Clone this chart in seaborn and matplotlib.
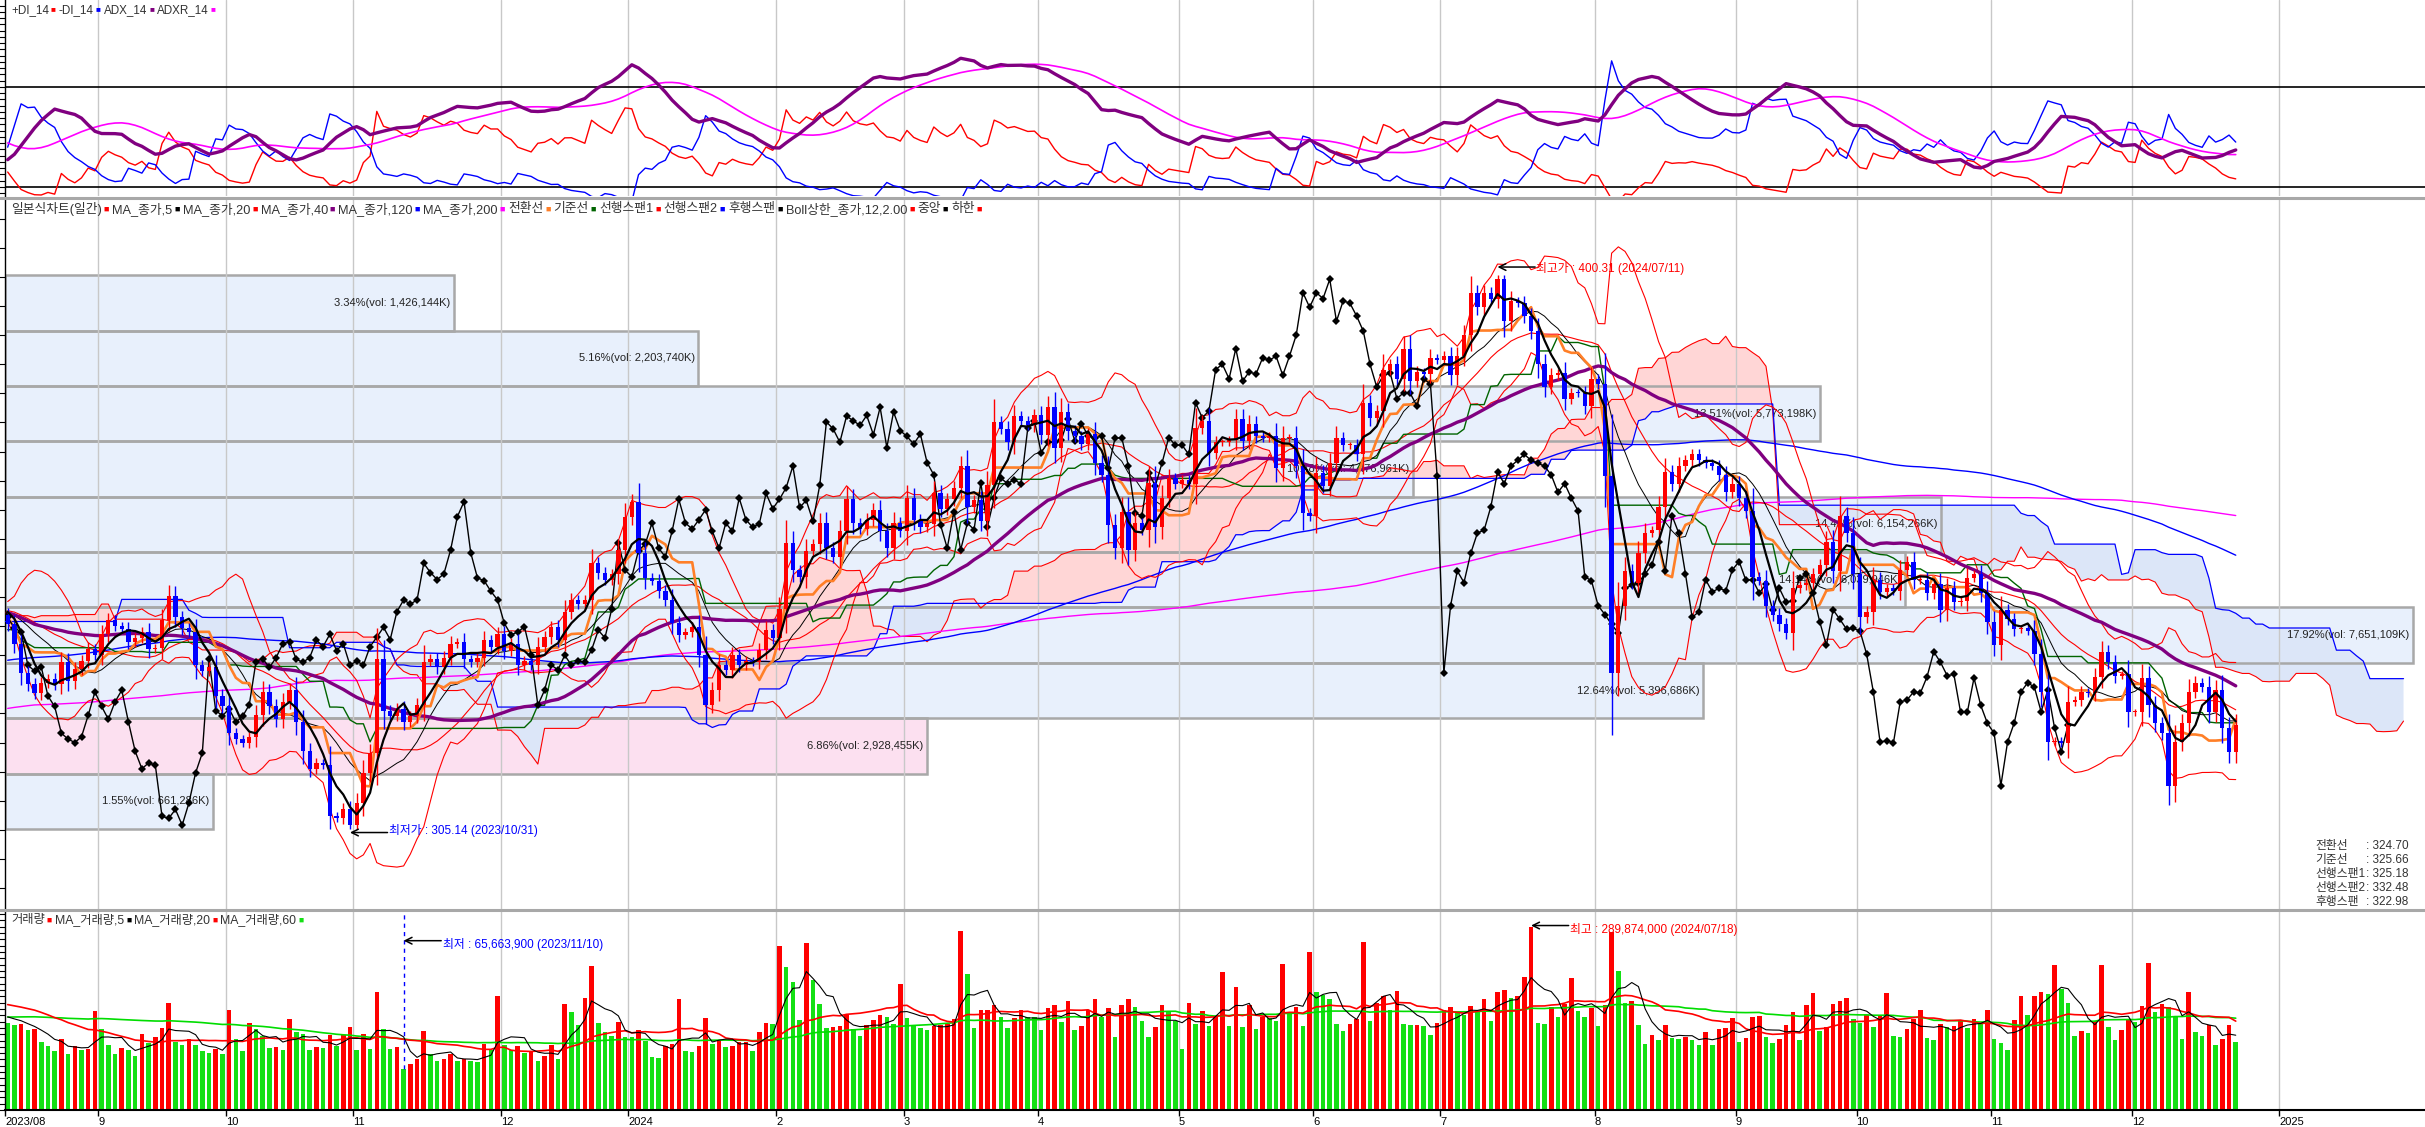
import numpy as np
import pandas as pd
import matplotlib
matplotlib.use("Agg")
import matplotlib.pyplot as plt
import matplotlib.transforms as mtransforms
from matplotlib.lines import Line2D
from matplotlib.patches import Rectangle
from matplotlib.ticker import MultipleLocator
import seaborn as sns

W, H = 2425, 1127

# ---------------- data ----------------
first_open = 342.0

# daily closes, 2023/08/11 .. 2024/12/23 (KRX trading days)
close = [
    # 2023/08
    340.3, 337.0, 332.0, 330.0, 328.5, 330.2, 331.0, 330.0, 333.8, 330.5, 332.6, 334.0, 336.0, 335.0,
    # 09
    338.6, 341.0, 340.0, 339.5, 337.3, 338.0, 339.0, 336.0, 336.3, 341.0, 345.2, 341.5, 339.7, 339.0,
    333.3, 332.3, 333.0, 328.0, 326.2,
    # 10
    321.6, 320.6, 320.0, 321.0, 324.7, 328.7, 326.2, 324.0, 327.0, 329.0, 323.5, 318.5, 315.5, 316.5,
    316.1, 307.3, 307.0, 308.5, 305.8,
    # 11
    309.6, 314.8, 318.2, 334.3, 325.5, 324.6, 325.8, 323.5, 324.5, 326.5, 333.9, 334.4, 332.9, 334.6,
    337.0, 337.3, 334.3, 333.8, 334.6, 337.6, 336.5, 338.6,
    # 12
    335.8, 337.0, 333.3, 334.0, 333.3, 336.5, 338.1, 339.8, 337.7, 342.5, 344.5, 343.8, 344.5, 350.8,
    349.2, 348.0, 349.0, 353.1, 358.8,
    # 2024/01
    361.4, 352.6, 348.3, 347.8, 346.0, 344.5, 340.5, 338.5, 339.0, 339.9, 335.1, 326.4, 329.0, 333.3,
    332.5, 335.0, 333.3, 334.0, 333.8, 335.9, 339.3, 338.0,
    # 02
    342.9, 354.3, 349.6, 348.5, 353.0, 354.1, 357.7, 353.4, 351.9, 356.3, 361.8, 357.7, 356.7, 358.3,
    360.0, 356.3, 353.4, 357.7, 356.3,
    # 03
    362.0, 358.3, 357.0, 357.6, 362.8, 360.2, 361.8, 363.8, 367.5, 360.4, 361.6, 358.0, 364.2, 375.1,
    373.9, 371.6, 376.1, 375.3, 374.5, 376.2,
    # 04
    372.9, 377.6, 370.7, 376.8, 373.6, 372.6, 371.3, 373.0, 368.1, 366.0, 357.4, 353.4, 359.7, 353.1,
    357.7, 356.6, 364.6, 357.1, 362.1, 365.4, 364.5,
    # 05
    365.2, 364.4, 374.0, 375.3, 369.8, 371.6, 371.6, 372.0, 375.6, 371.9, 374.8, 372.7, 372.3, 372.7,
    367.1, 372.3, 372.4, 367.5, 359.5, 358.9,
    # 06
    366.4, 364.1, 368.0, 372.4, 371.1, 371.1, 369.5, 378.4, 375.8, 377.0, 384.1, 385.0, 382.5, 387.7,
    382.1, 383.7, 383.3, 386.1, 385.7,
    # 07
    386.4, 383.1, 386.4, 390.0, 397.3, 394.8, 397.3, 396.3, 399.6, 392.4, 395.9, 395.5, 393.3, 390.7,
    385.0, 381.1, 383.1, 383.5, 379.1, 380.1, 380.0, 377.8, 382.5,
    # 08
    381.6, 365.8, 332.0, 343.5, 349.5, 347.5, 352.5, 356.0, 356.5, 360.5, 366.5, 364.5, 367.5, 368.5,
    369.5, 368.5, 368.0, 367.5, 366.0, 363.0, 364.5,
    # 09
    362.0, 359.8, 348.5, 347.8, 343.5, 342.0, 340.3, 338.8, 346.5, 347.0, 347.5, 349.0, 350.5, 354.5,
    349.5, 359.0, 356.0, 349.0,
    # 10
    341.5, 342.5, 348.0, 345.9, 346.5, 346.1, 349.7, 351.1, 347.9, 348.0, 345.7, 347.2, 342.7, 346.5,
    344.1, 344.4, 348.3, 348.9, 345.7, 340.8,
    # 11
    336.7, 342.8, 341.2, 339.5, 339.6, 339.2, 335.2, 328.7, 320.1, 320.3, 320.0, 327.0, 327.3, 328.7,
    328.5, 331.3, 335.6, 333.8, 331.5, 331.7, 325.2,
    # 12
    325.2, 331.1, 326.4, 323.3, 321.6, 312.6, 320.1, 323.4, 328.7, 330.3, 329.5, 325.3, 329.0, 322.5,
    318.4, 322.98,
]

# daily volume, millions of shares
volume = [
    137, 134, 135.5, 127, 128, 108, 102, 94, 112, 89, 102, 95, 96, 156,
    128, 103, 89, 98, 95, 86, 120, 106, 115, 130, 170, 108, 103, 112, 103, 94, 91, 97, 88,
    159, 112, 94, 138, 128, 117, 98, 100, 95, 144, 123, 120, 95, 100, 98, 119, 102, 119, 131,
    95, 120, 97, 187, 129, 97, 100, 65.6639, 73, 81, 125, 88, 78, 80, 88, 78, 80, 77, 76, 105, 95, 181,
    103, 95, 102, 91, 92, 78, 86, 103, 81, 168, 155, 135, 177, 228, 138, 123, 117, 139, 116,
    115, 127, 109, 84, 83, 102, 105, 176, 94, 92, 102, 146, 104, 109, 100, 102, 107, 108, 94, 123, 137, 136,
    260, 227, 203, 142, 264, 205, 167, 130, 131, 133, 151, 128, 117, 134, 142, 150, 148, 136, 200,
    145, 134, 130, 127, 133, 134, 136, 144, 284, 216, 130, 158, 159, 166, 148, 130, 145, 158, 148, 147,
    127, 161, 166, 139, 172, 127, 133, 158, 175, 148, 161, 116, 166, 175, 163, 141, 116, 131, 166, 156, 141,
    97, 169, 136, 156, 133, 148, 219, 133, 195, 131, 166, 128, 148, 145, 141, 231, 153, 163, 133, 250,
    187, 182, 176, 136, 125, 136, 144, 266, 141, 169, 180, 158, 188, 136, 134, 135, 133, 119, 138,
    158, 163, 155, 150, 164, 156, 175, 141, 186, 190, 177, 180, 211, 289.874, 138, 136, 163, 147, 167,
    209, 156, 148, 161,
    133, 166, 281, 220, 170, 172, 134, 104, 119, 111, 134, 114, 113, 116, 111, 103, 123, 103, 128, 130, 145,
    108, 114, 148, 149, 116, 106, 113, 134, 155, 111, 166, 185, 125, 131, 167, 172, 178, 144,
    137, 151, 131, 150, 185, 117, 116, 128, 144, 158, 114, 111, 136, 131, 133, 142, 130, 144, 136, 158,
    113, 106, 95, 142, 180, 150, 181, 186, 183, 229, 192, 170, 117, 125, 122, 141, 229, 131, 111, 127, 144,
    139, 164, 233, 155, 167, 163, 148, 113, 186, 123, 117, 134, 103, 113, 134, 108,
]

holidays = [
    "2023-08-15", "2023-09-28", "2023-09-29", "2023-10-02", "2023-10-03", "2023-10-09",
    "2023-12-25", "2023-12-29", "2024-01-01", "2024-02-09", "2024-02-12", "2024-03-01",
    "2024-04-10", "2024-05-01", "2024-05-06", "2024-05-15", "2024-06-06", "2024-08-15",
    "2024-09-16", "2024-09-17", "2024-09-18", "2024-10-01", "2024-10-03", "2024-10-09",
]

# weekly closes / volumes before the visible window (only feed the averages)
pre_close_weekly = [298, 302, 322, 319, 317, 318, 316, 313, 310, 289, 296, 310, 312, 322,
                    326, 320, 320, 318, 322, 318, 316, 320, 325, 325, 334, 332, 330, 332,
                    329, 337, 340, 346, 350, 352, 342, 340, 336, 342, 344, 342, 343]
pre_volume_weekly = [125, 130, 120, 128, 135, 140, 150, 160, 175, 180, 170, 150]

price_high, price_high_date = 400.31, "2024-07-11"
price_low, price_low_date = 305.14, "2023-10-31"
vol_high_date, vol_low_date = "2024-07-18", "2023-11-10"

# price-by-volume table, top bin first
profile_pct = [3.34, 5.16, 13.51, 10.48, 14.41, 14.14, 17.92, 12.64, 6.86, 1.55]
profile_vol = ["1,426,144", "2,203,740", "5,773,198", "4,476,961", "6,154,266",
               "6,039,946", "7,651,109", "5,396,686", "2,928,455", "661,286"]

ichimoku_names = ["전환선", "기준선", "선행스팬1", "선행스팬2", "후행스팬"]
ichimoku_values = [324.70, 325.66, 325.18, 332.48, 322.98]

# ---------------- derived series ----------------
RED, BLUE, PURPLE, MAGENTA = "#FF0000", "#0000FF", "#800080", "#FF00FF"
ORANGE, DKGREEN, VGREEN = "#FF7F27", "#006400", "#14E014"

dates = pd.bdate_range("2023-08-11", "2024-12-23")
dates = dates[~dates.isin(pd.to_datetime(holidays))]
assert len(dates) == len(close) == len(volume), (len(dates), len(close), len(volume))
future = pd.bdate_range(dates[-1] + pd.Timedelta(days=1), periods=28)
all_dates = dates.append(future)
N = len(close)
shift = 25

pre_c = np.repeat(pre_close_weekly, 5).astype(float)
n_pre = len(pre_c)
c_all = np.concatenate([pre_c, close])
o_all = np.concatenate([[pre_c[0]], c_all[:-1]])
o_all[n_pre] = first_open
body = np.abs(c_all - o_all)
wick = 0.3 * body + 0.6
h_all = np.maximum(o_all, c_all) + wick
l_all = np.minimum(o_all, c_all) - wick
h_all[n_pre:] = np.minimum(h_all[n_pre:], price_high)
l_all[n_pre:] = np.maximum(l_all[n_pre:], price_low)
i_hi = dates.get_loc(pd.Timestamp(price_high_date))
i_lo = dates.get_loc(pd.Timestamp(price_low_date))
h_all[n_pre + i_hi] = price_high
l_all[n_pre + i_lo] = price_low

C, Hs, Ls = pd.Series(c_all), pd.Series(h_all), pd.Series(l_all)
ma = {n: C.rolling(n).mean().to_numpy()[n_pre:] for n in (5, 20, 40, 120, 200)}
boll_mid = C.rolling(12).mean()
boll_sd = C.rolling(12).std(ddof=0)
boll_up = (boll_mid + 2 * boll_sd).to_numpy()[n_pre:]
boll_dn = (boll_mid - 2 * boll_sd).to_numpy()[n_pre:]
boll_mid = boll_mid.to_numpy()[n_pre:]

tenkan = (Hs.rolling(9).max() + Ls.rolling(9).min()) / 2
kijun = (Hs.rolling(26).max() + Ls.rolling(26).min()) / 2
span1 = ((tenkan + kijun) / 2).to_numpy()
span2 = ((Hs.rolling(52).max() + Ls.rolling(52).min()) / 2).to_numpy()
tenkan, kijun = tenkan.to_numpy()[n_pre:], kijun.to_numpy()[n_pre:]
x_all = np.arange(len(c_all)) - n_pre
x_lead = x_all + shift
x_lag = x_all - shift

# DMI 14
up_move = Hs.diff()
dn_move = -Ls.diff()
pdm = pd.Series(np.where((up_move > dn_move) & (up_move > 0), up_move, 0.0))
mdm = pd.Series(np.where((dn_move > up_move) & (dn_move > 0), dn_move, 0.0))
tr = pd.concat([Hs - Ls, (Hs - C.shift()).abs(), (Ls - C.shift()).abs()], axis=1).max(axis=1)
a = 1 / 14
atr = tr.ewm(alpha=a, adjust=False).mean()
pdi = 100 * pdm.ewm(alpha=a, adjust=False).mean() / atr
mdi = 100 * mdm.ewm(alpha=a, adjust=False).mean() / atr
dx = 100 * (pdi - mdi).abs() / (pdi + mdi)
adx = dx.ewm(alpha=a, adjust=False).mean()
adxr = adx.rolling(14).mean()
pdi, mdi, adx, adxr = [s.to_numpy()[n_pre:] for s in (pdi, mdi, adx, adxr)]

pre_v = np.repeat(pre_volume_weekly, 5).astype(float)
v_all = pd.Series(np.concatenate([pre_v, volume]))
vma = {n: v_all.rolling(n).mean().to_numpy()[len(pre_v):] for n in (5, 20, 60)}
vol_up = np.diff(v_all.to_numpy())[len(pre_v) - 1:] > 0

x = np.arange(N)
opn = o_all[n_pre:]
cls = np.asarray(close)
hi, lo = h_all[n_pre:], l_all[n_pre:]

# month starts
month_pos, month_lab = [], []
for i, d in enumerate(all_dates):
    if i == 0:
        month_pos.append(i); month_lab.append(d.strftime("%Y/%m"))
    elif d.month != all_dates[i - 1].month:
        month_pos.append(i)
        month_lab.append(str(d.year) if d.month == 1 else str(d.month))

# ---------------- drawing ----------------
sns.set_theme(style="white")
plt.rcParams["font.family"] = ["Liberation Sans", "Noto Sans CJK KR", "DejaVu Sans"]
plt.rcParams["axes.unicode_minus"] = False

fig = plt.figure(figsize=(W / 100, H / 100), dpi=100)
fig.patch.set_facecolor("white")


def px_axes(top, bottom, left=5, right=W):
    return fig.add_axes([left / W, 1 - bottom / H, (right - left) / W, (bottom - top) / H])


ax_dmi = px_axes(0, 196)
ax_px = px_axes(199, 909)
ax_vol = px_axes(911, 1110)
XMIN, XMAX = -0.4, 360.2

for ax in (ax_dmi, ax_px, ax_vol):
    ax.set_facecolor("white")
    ax.set_xlim(XMIN, XMAX)
    for s in ("top", "right", "bottom"):
        ax.spines[s].set_visible(False)
    ax.spines["left"].set_color("black")
    ax.spines["left"].set_linewidth(1)
    ax.tick_params(axis="y", left=True, direction="out", length=4, width=0.8,
                   colors="black", labelleft=False)
    ax.tick_params(axis="x", bottom=False, labelbottom=False)
    for m in month_pos[1:]:
        ax.axvline(m - 0.5, color="#C8C8C8", lw=1, zorder=1.6)


def line(ax, xs, ys, color, lw, z=3, **kw):
    xs, ys = np.asarray(xs, float), np.asarray(ys, float)
    ok = ~np.isnan(ys)
    sns.lineplot(x=xs[ok], y=ys[ok], ax=ax, color=color, linewidth=lw, zorder=z,
                 estimator=None, sort=False, legend=False, **kw)


def legend_row(ax, yfrac, items, size=9.0):
    prev = ax.annotate(items[0][0], xy=(0, yfrac), xycoords="axes fraction", xytext=(6, 0),
                       textcoords="offset pixels", fontsize=size, color="#333333",
                       va="center", ha="left", zorder=30)
    for k, (lab, col) in enumerate(items):
        if k > 0:
            prev = ax.annotate(lab, xy=(1, 0.5), xycoords=prev, xytext=(3, 0),
                               textcoords="offset pixels", fontsize=size, color="#333333",
                               va="center", ha="left", zorder=30)
        prev = ax.annotate("■", xy=(1, 0.5), xycoords=prev, xytext=(2, 0),
                           textcoords="offset pixels", fontsize=size * 0.7, color=col,
                           va="center", ha="left", zorder=30)


# --- DMI panel
line(ax_dmi, x, pdi, RED, 1.0)
line(ax_dmi, x, mdi, BLUE, 1.0)
line(ax_dmi, x, adxr, MAGENTA, 1.2)
line(ax_dmi, x, adx, PURPLE, 2.4)
ax_dmi.axhline(10, color="black", lw=1.2, zorder=2)
ax_dmi.axhline(42, color="black", lw=1.2, zorder=2)
ax_dmi.set_ylim(7.1, 69.8)
ax_dmi.yaxis.set_major_locator(MultipleLocator(2))
legend_row(ax_dmi, 0.95, [("+DI_14", RED), ("-DI_14", BLUE), ("ADX_14", PURPLE), ("ADXR_14", MAGENTA)],
           size=8.4)

# --- price panel
ax = ax_px
ax.set_ylim(291.4, 413.4)
ax.yaxis.set_major_locator(MultipleLocator(5))
edges = np.linspace(price_low, price_high, len(profile_pct) + 1)[::-1]
blend = mtransforms.blended_transform_factory(ax.transAxes, ax.transData)
last_bin = int(np.searchsorted(-edges, -cls[-1])) - 1
pmax = max(profile_pct)
for k, (pct, vtxt) in enumerate(zip(profile_pct, profile_vol)):
    top_, bot_ = edges[k], edges[k + 1]
    w = pct / pmax * 0.995
    face = "#FCE0F0" if k == last_bin else "#E8F0FC"
    ax.add_patch(Rectangle((0, bot_), w, top_ - bot_, transform=blend, facecolor=face,
                           edgecolor="none", zorder=0))
    ax.add_patch(Rectangle((0, bot_), w, top_ - bot_, transform=blend, facecolor="none",
                           edgecolor="#A8A8A8", lw=1.8, zorder=1.5))
    ax.text(w - 0.0015, (top_ + bot_) / 2, f"{pct:.2f}%(vol: {vtxt}K)", transform=blend,
            ha="right", va="center", fontsize=8, color="#222222", zorder=2)

ok = x_lead >= XMIN - 1
ax.fill_between(x_lead[ok], span1[ok], span2[ok], where=span1[ok] >= span2[ok],
                interpolate=True, color="#FFD6D6", lw=0, zorder=1)
ax.fill_between(x_lead[ok], span1[ok], span2[ok], where=span1[ok] < span2[ok],
                interpolate=True, color="#DCE6F8", lw=0, zorder=1)
line(ax, x_lead[ok], span1[ok], RED, 0.8)
line(ax, x_lead[ok], span2[ok], BLUE, 0.9)
okl = x_lag >= XMIN - 1
line(ax, x_lag[okl], c_all[okl], "black", 1.0, z=3.5, marker="D", markersize=4.2,
     markeredgewidth=0)
line(ax, x, ma[200], MAGENTA, 1.0)
line(ax, x, ma[120], BLUE, 1.0)
line(ax, x, boll_up, RED, 0.8)
line(ax, x, boll_dn, RED, 0.8)
line(ax, x, ma[20], RED, 0.8)
line(ax, x, kijun, DKGREEN, 1.0)
line(ax, x, boll_mid, "black", 0.7)
line(ax, x, ma[40], PURPLE, 2.4)
line(ax, x, tenkan, ORANGE, 1.9)

col = np.where(cls >= opn, RED, BLUE)
ax.vlines(x, lo, hi, colors=col, lw=1.0, zorder=4)
ax.bar(x, np.maximum(np.abs(cls - opn), 0.18), bottom=np.minimum(cls, opn), width=0.64,
       color=col, linewidth=0, zorder=4.5)
line(ax, x, ma[5], "black", 1.6, z=5)

ax.annotate("", xy=(i_hi, price_high + 1.4), xytext=(i_hi + 5.6, price_high + 1.4),
            arrowprops=dict(arrowstyle="->", color="black", lw=1.1, shrinkA=0, shrinkB=0), zorder=8)
ax.text(i_hi + 5.8, price_high + 1.2, f"최고가 : {price_high:.2f} ({price_high_date.replace('-', '/')})",
        color=RED, fontsize=8.5, va="center", ha="left", zorder=8)
ax.annotate("", xy=(i_lo, price_low - 0.6), xytext=(i_lo + 5.6, price_low - 0.6),
            arrowprops=dict(arrowstyle="->", color="black", lw=1.1, shrinkA=0, shrinkB=0), zorder=8)
ax.text(i_lo + 5.8, price_low - 0.2, f"최저가 : {price_low:.2f} ({price_low_date.replace('-', '/')})",
        color=BLUE, fontsize=8.5, va="center", ha="left", zorder=8)

legend_row(ax, 0.986, [("일본식차트(일간)", RED), ("MA_종가,5", "black"), ("MA_종가,20", RED),
                       ("MA_종가,40", PURPLE), ("MA_종가,120", BLUE), ("MA_종가,200", MAGENTA),
                       ("전환선", ORANGE), ("기준선", DKGREEN), ("선행스팬1", RED), ("선행스팬2", BLUE),
                       ("후행스팬", "black"), ("Boll상한_종가,12,2.00", RED), ("중앙", "black"),
                       ("하한", RED)], size=9.2)

for k, (nm, val) in enumerate(zip(ichimoku_names, ichimoku_values)):
    yy = 1 - (846 + 14 * k) / H
    fig.text(2315 / W, yy, nm, fontsize=8.5, color="#333333", va="center", ha="left")
    fig.text(2366 / W, yy, f": {val:.2f}", fontsize=8.5, color="#333333", va="center", ha="left")

# --- volume panel
ax = ax_vol
ax.set_ylim(0, 315)
ax.yaxis.set_major_locator(MultipleLocator(10))
vcol = np.where(vol_up, RED, VGREEN)
ax.bar(x, volume, width=0.68, color=vcol, linewidth=0, zorder=2)
line(ax, x, vma[60], "#00DD00", 1.2)
line(ax, x, vma[20], RED, 1.2)
line(ax, x, vma[5], "black", 0.8)
i_vh = dates.get_loc(pd.Timestamp(vol_high_date))
i_vl = dates.get_loc(pd.Timestamp(vol_low_date))
ax.vlines(i_vl, volume[i_vl], 313, colors=BLUE, linestyles=(0, (3, 3)), lw=1, zorder=6)
ax.annotate("", xy=(i_vl, 268), xytext=(i_vl + 5.6, 268),
            arrowprops=dict(arrowstyle="->", color="black", lw=1.1, shrinkA=0, shrinkB=0), zorder=8)
ax.text(i_vl + 5.8, 262, f"최저 : {volume[i_vl] * 1e6:,.0f} ({vol_low_date.replace('-', '/')})",
        color=BLUE, fontsize=8.5, va="center", ha="left", zorder=8)
ax.annotate("", xy=(i_vh, 292), xytext=(i_vh + 5.6, 292),
            arrowprops=dict(arrowstyle="->", color="black", lw=1.1, shrinkA=0, shrinkB=0), zorder=8)
ax.text(i_vh + 5.8, 286, f"최고 : {volume[i_vh] * 1e6:,.0f} ({vol_high_date.replace('-', '/')})",
        color=RED, fontsize=8.5, va="center", ha="left", zorder=8)
legend_row(ax, 0.955, [("거래량", RED), ("MA_거래량,5", "black"), ("MA_거래량,20", RED),
                       ("MA_거래량,60", VGREEN)], size=8.8)

ax.spines["bottom"].set_visible(True)
ax.spines["bottom"].set_color("black")
ax.spines["bottom"].set_linewidth(1.5)
ax.set_xticks([max(m - 0.5, XMIN) for m in month_pos])
ax.set_xticklabels(month_lab)
ax.tick_params(axis="x", bottom=True, labelbottom=True, direction="out", length=4, width=1,
               colors="black", labelsize=8, pad=1)
for t in ax.get_xticklabels():
    t.set_ha("left")

for ypx in (197.5, 910):
    fig.add_artist(Line2D([0, 1], [1 - ypx / H] * 2, color="#A8A8A8", lw=2.2,
                          transform=fig.transFigure))

fig.savefig("out.png", dpi=100, facecolor="white")
